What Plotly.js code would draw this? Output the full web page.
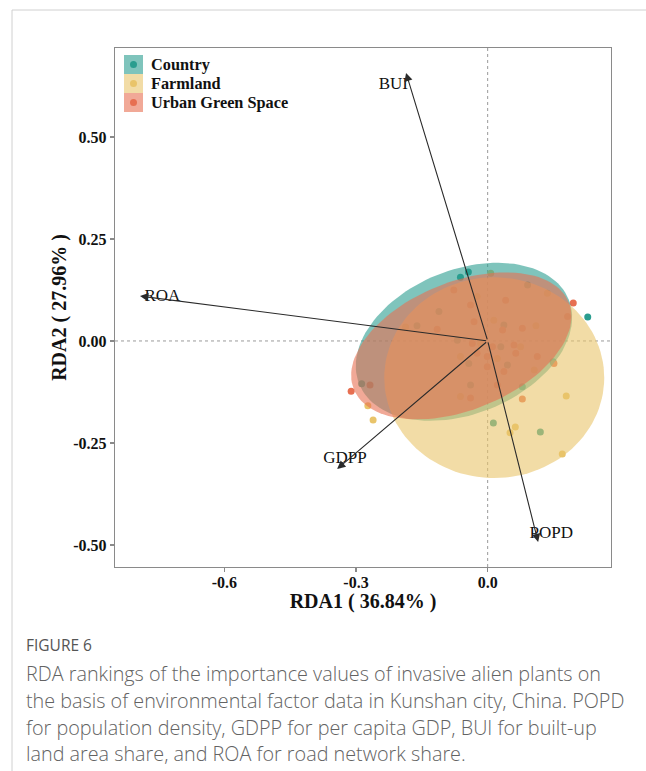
<!DOCTYPE html>
<html>
<head>
<meta charset="utf-8">
<script src="https://cdn.plot.ly/plotly-3.0.1.min.js"></script>
<style>
html,body{margin:0;padding:0;background:#fff;}
#chart{width:646px;height:771px;}
</style>
</head>
<body>
<div id="chart"></div>
<script>
// ---- data ----
const groups = ['Country', 'Farmland', 'Urban Green Space'];
const groupColors = ['#2A9D8F', '#E9C46A', '#E76F51'];

const countryX = [0.228, -0.044, -0.287, 0.013, 0.120, 0.149, -0.062, 0.091, -0.111, 0.037, -0.069, 0.030, -0.043, 0.045, -0.039, 0.079, -0.161];
const countryY = [0.059, 0.169, -0.105, -0.201, -0.223, -0.051, 0.156, 0.137, 0.072, 0.039, 0.002, -0.014, -0.055, -0.059, -0.108, -0.112, 0.037];

const farmX = [-0.261, 0.179, 0.063, 0.051, 0.170, -0.273, 0.007, 0.136, -0.024, -0.187, 0.014, 0.110, -0.016, 0.075, -0.062, 0.022, 0.106, -0.062];
const farmY = [-0.194, -0.135, -0.211, -0.225, -0.277, -0.159, 0.166, 0.117, 0.109, 0.034, 0.051, 0.037, -0.006, -0.014, -0.038, -0.043, -0.071, -0.136];

const urbanX = [0.195, -0.311, -0.268, 0.079, -0.077, 0.041, -0.039, -0.115, -0.031, 0.034, 0.079, -0.035, 0.011, 0.060, 0.113, -0.024, -0.001, 0.064, -0.001, 0.037, 0.151, 0.022, -0.039, 0.182];
const urbanY = [0.093, -0.123, -0.108, -0.142, 0.125, 0.100, 0.088, 0.029, 0.047, 0.027, 0.031, -0.006, -0.014, -0.010, -0.038, -0.030, -0.038, -0.030, -0.063, -0.075, -0.055, -0.108, -0.140, 0.060];

// confidence ellipses: centre and two conjugate semi-diameters (data units)
const ellCX = [-0.054, 0.015, -0.060];
const ellCY = [-0.002, -0.090, -0.012];
const ellUX = [0.2387, 0.2506, 0.2450];
const ellUY = [0.1037, 0.0000, 0.1065];
const ellVX = [-0.0615, 0.0000, -0.0546];
const ellVY = [0.1637, 0.2460, 0.1454];

// environmental factor arrows
const envNames = ['BUI', 'ROA', 'GDPP', 'POPD'];
const envX = [-0.186, -0.792, -0.343, 0.115];
const envY = [0.657, 0.110, -0.314, -0.493];
const envLabelX = [-0.215, -0.741, -0.325, 0.145];
const envLabelY = [0.627, 0.108, -0.289, -0.473];

const xTickVals = [-0.6, -0.3, 0.0];
const xTickText = ['-0.6', '-0.3', '0.0'];
const yTickVals = [0.50, 0.25, 0.00, -0.25, -0.50];
const yTickText = ['0.50', '0.25', '0.00', '-0.25', '-0.50'];

const xTitle = 'RDA1 ( 36.84% )';
const yTitle = 'RDA2 ( 27.96% )';
const figLabel = 'FIGURE 6';
const captionLines = [
  'RDA rankings of the importance values of invasive alien plants on',
  'the basis of environmental factor data in Kunshan city, China. POPD',
  'for population density, GDPP for per capita GDP, BUI for built-up',
  'land area share, and ROA for road network share.'
];

// ---- layout helpers ----
const W = 646, H = 771;
const M = {l: 115, r: 35, t: 48, b: 204};
const pw = W - M.l - M.r, ph = H - M.t - M.b;
const px = x => (x - M.l) / pw;
const py = y => (H - M.b - y) / ph;

function rgba(hex, a) {
  const n = parseInt(hex.slice(1), 16);
  return `rgba(${(n >> 16) & 255},${(n >> 8) & 255},${n & 255},${a})`;
}
function ellipse(i) {
  const xs = [], ys = [];
  for (let k = 0; k <= 120; k++) {
    const t = 2 * Math.PI * k / 120;
    xs.push(ellCX[i] + Math.cos(t) * ellUX[i] + Math.sin(t) * ellVX[i]);
    ys.push(ellCY[i] + Math.cos(t) * ellUY[i] + Math.sin(t) * ellVY[i]);
  }
  return {xs, ys};
}

const serif = 'Liberation Serif, Times New Roman, serif';
const ptsX = [countryX, farmX, urbanX];
const ptsY = [countryY, farmY, urbanY];

const traces = [];
for (let i = 0; i < 3; i++) {
  traces.push({
    type: 'scatter', mode: 'markers', x: ptsX[i], y: ptsY[i], name: groups[i],
    marker: {color: groupColors[i], size: 7, line: {width: 0}},
    showlegend: false, hoverinfo: 'skip'
  });
}
for (let i = 0; i < 3; i++) {
  const e = ellipse(i);
  traces.push({
    type: 'scatter', mode: 'lines', x: e.xs, y: e.ys, fill: 'toself',
    fillcolor: rgba(groupColors[i], 0.6), line: {width: 0, color: 'rgba(0,0,0,0)'},
    showlegend: false, hoverinfo: 'skip'
  });
}
traces.push({
  type: 'scatter', mode: 'text', x: envLabelX, y: envLabelY, text: envNames,
  textposition: 'middle center', textfont: {family: serif, size: 17, color: '#111'},
  showlegend: false, hoverinfo: 'skip'
});

const annotations = [];
for (let i = 0; i < envNames.length; i++) {
  annotations.push({
    x: envX[i], y: envY[i], xref: 'x', yref: 'y',
    ax: 0, ay: 0, axref: 'x', ayref: 'y',
    text: '', showarrow: true, arrowhead: 2, arrowsize: 1.5, arrowwidth: 1.1,
    arrowcolor: '#2a2a2a', standoff: 0, startstandoff: 0
  });
}

const shapes = [
  // zero lines
  {type: 'line', xref: 'x', yref: 'paper', x0: 0, x1: 0, y0: 0, y1: 1, layer: 'below',
   line: {color: '#9a9a9a', width: 1, dash: 'dot'}},
  {type: 'line', xref: 'paper', yref: 'y', x0: 0, x1: 1, y0: 0, y1: 0, layer: 'below',
   line: {color: '#9a9a9a', width: 1, dash: 'dot'}},
  // figure frame
  {type: 'line', xref: 'paper', yref: 'paper', x0: px(12), x1: px(646), y0: py(10), y1: py(10),
   line: {color: '#d0d0d0', width: 1}},
  {type: 'line', xref: 'paper', yref: 'paper', x0: px(12), x1: px(12), y0: py(10), y1: py(771),
   line: {color: '#d0d0d0', width: 1}}
];

// legend (drawn manually)
const legRowTop = [55, 74, 93];
for (let i = 0; i < 3; i++) {
  shapes.push({type: 'rect', xref: 'paper', yref: 'paper',
    x0: px(124), x1: px(143), y0: py(legRowTop[i] + 19), y1: py(legRowTop[i]),
    fillcolor: rgba(groupColors[i], 0.6), line: {width: 0}});
  const cy = legRowTop[i] + 9.5;
  shapes.push({type: 'circle', xref: 'paper', yref: 'paper',
    x0: px(130), x1: px(137), y0: py(cy + 3.5), y1: py(cy - 3.5),
    fillcolor: groupColors[i], line: {width: 0}});
  annotations.push({xref: 'paper', yref: 'paper', x: px(149), y: py(cy), xanchor: 'left', yanchor: 'middle',
    text: '<b>' + groups[i] + '</b>', showarrow: false,
    font: {family: serif, size: 16.3, color: '#111'}});
}

// caption
annotations.push({xref: 'paper', yref: 'paper', x: px(24), y: py(645), xanchor: 'left', yanchor: 'middle',
  text: figLabel, showarrow: false, font: {family: 'Open Sans, sans-serif', size: 15.5, color: '#555'}});
const capY = [673, 700, 727, 753];
captionLines.forEach((t, i) => {
  annotations.push({xref: 'paper', yref: 'paper', x: px(24), y: py(capY[i]), xanchor: 'left', yanchor: 'middle',
    text: t, showarrow: false, font: {family: 'Open Sans, sans-serif', size: 19.8, color: '#636363', weight: 300}});
});

const axisCommon = {
  showgrid: false, zeroline: false, showline: true, mirror: true,
  linecolor: '#8a8a8a', linewidth: 1.3, ticks: 'outside', ticklen: 4, tickcolor: '#8a8a8a', tickwidth: 1.2,
  tickfont: {family: serif, size: 16, color: '#111', weight: 'bold'}
};

const layout = {
  width: W, height: H, margin: M, paper_bgcolor: '#fff', plot_bgcolor: '#fff',
  showlegend: false,
  xaxis: Object.assign({}, axisCommon, {
    range: [-0.849, 0.281], tickvals: xTickVals, ticktext: xTickText, ticklabelstandoff: -4,
    title: {text: '<b>' + xTitle + '</b>', font: {family: serif, size: 20, color: '#111'}, standoff: 2}
  }),
  yaxis: Object.assign({}, axisCommon, {
    range: [-0.554, 0.718], tickvals: yTickVals, ticktext: yTickText,
    title: {text: '<b>' + yTitle + '</b>', font: {family: serif, size: 20, color: '#111'}, standoff: 1}
  }),
  shapes: shapes, annotations: annotations
};

Plotly.newPlot('chart', traces, layout, {displayModeBar: false, staticPlot: true});
</script>
</body>
</html>
